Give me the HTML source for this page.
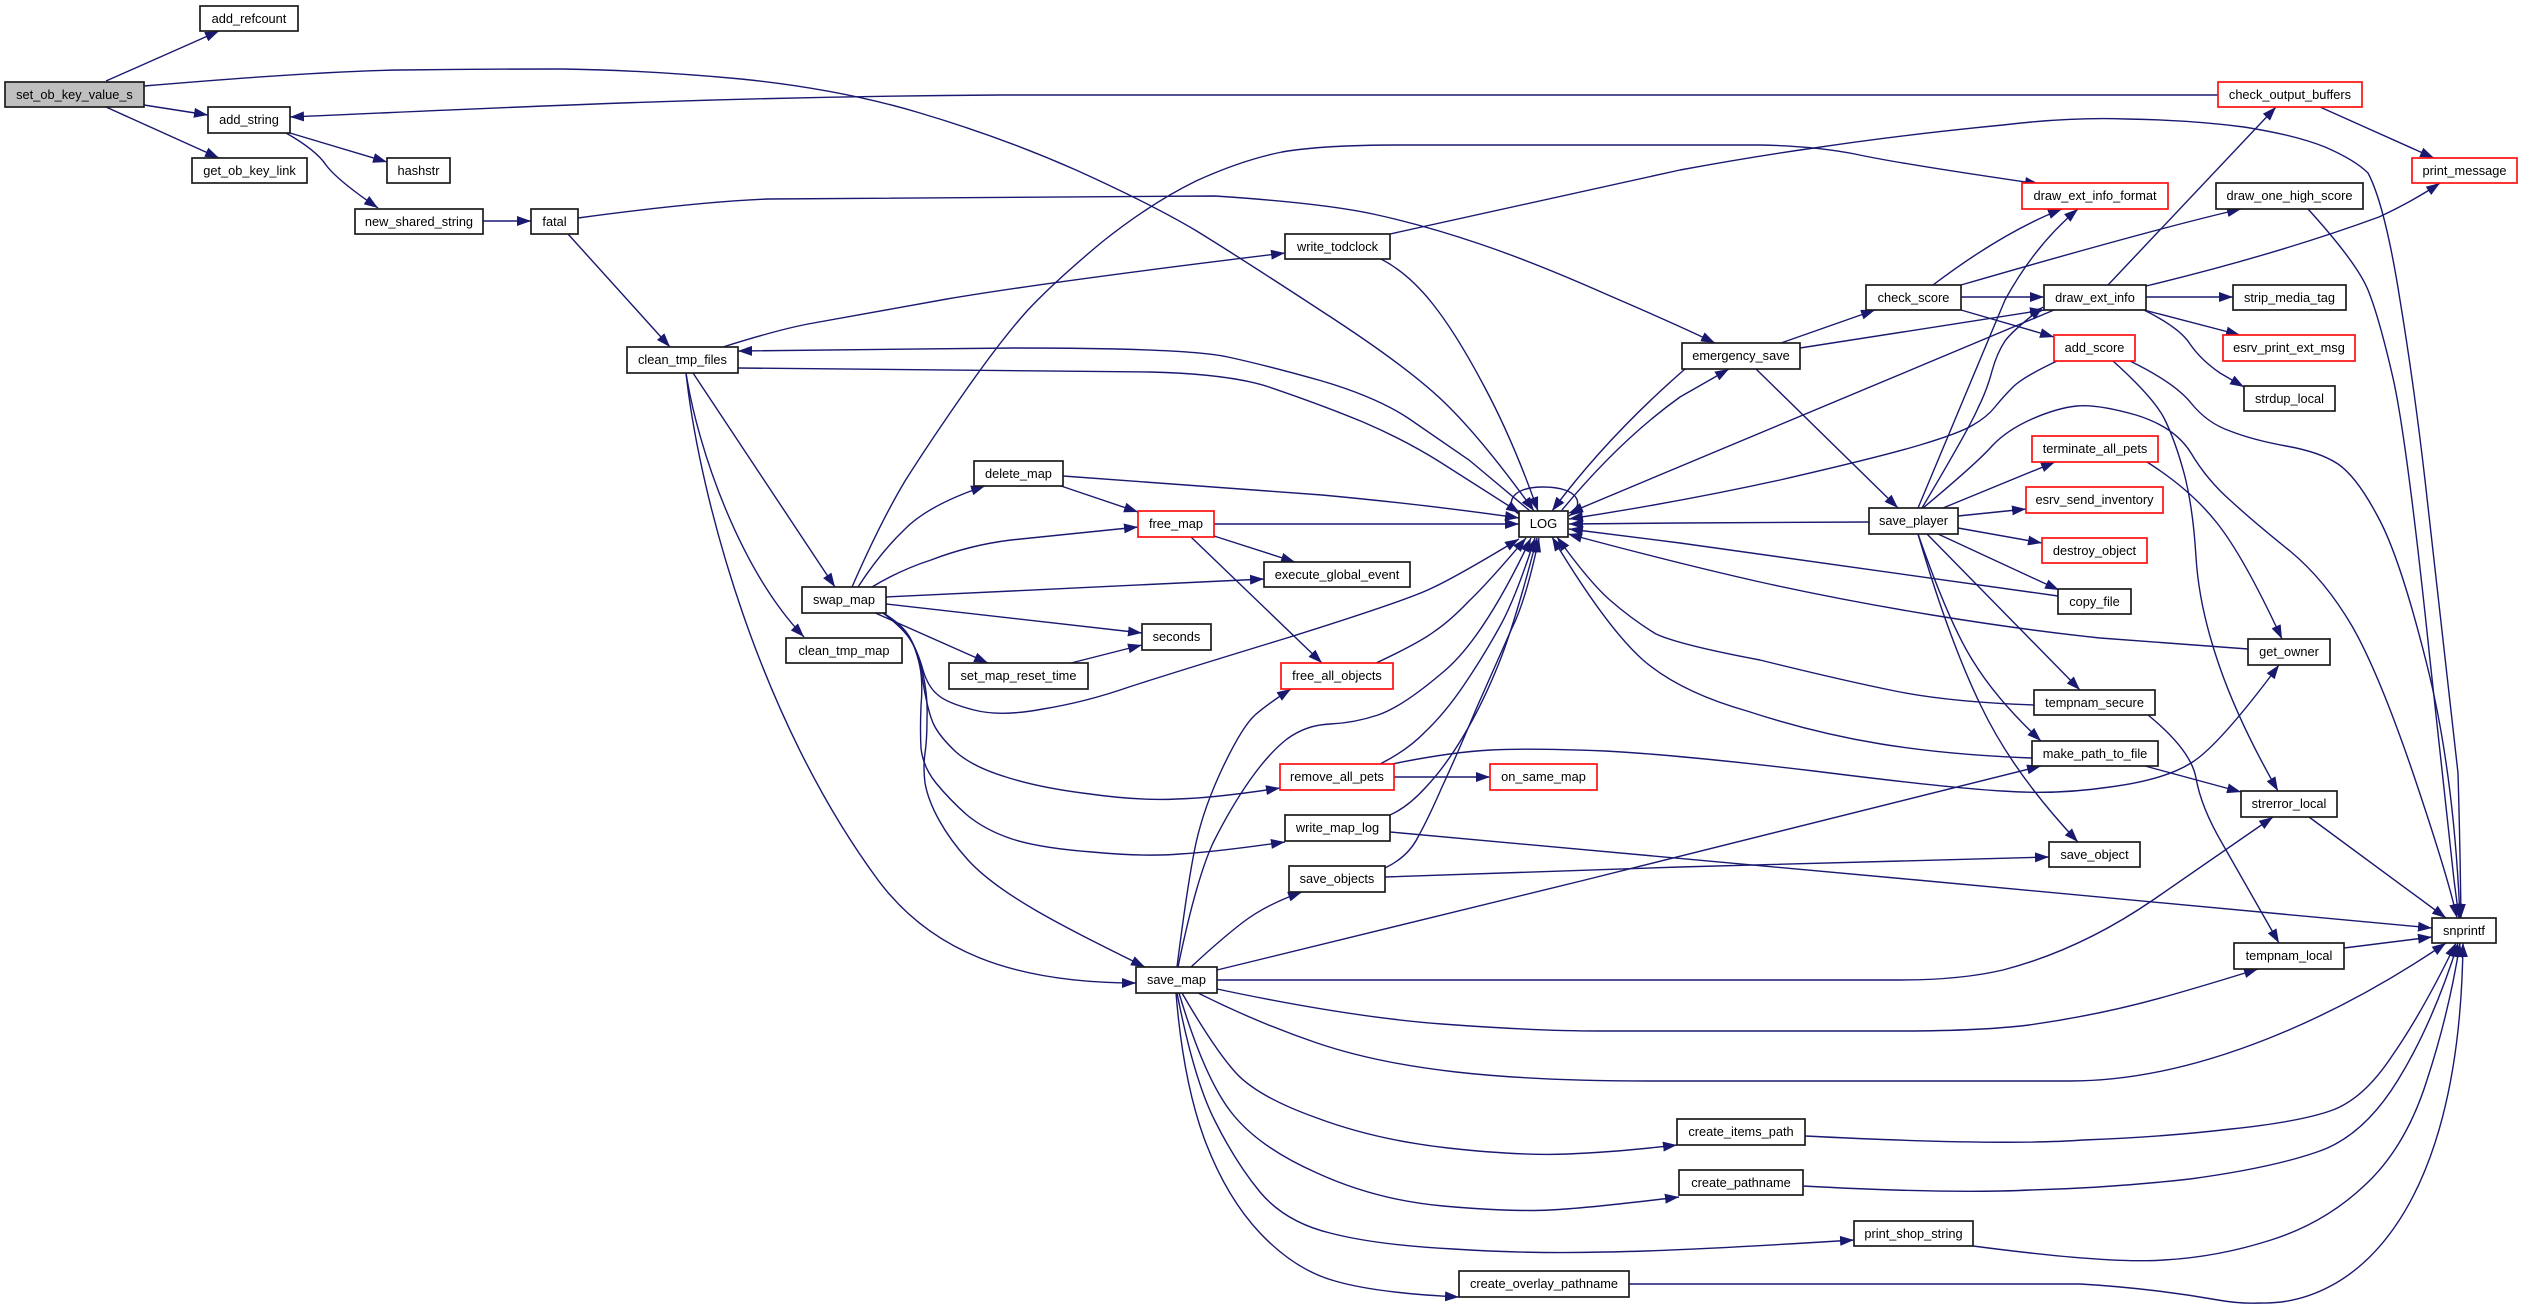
<!DOCTYPE html>
<html lang="en">
<head>
<meta charset="utf-8">
<title>set_ob_key_value_s call graph</title>
<style>
html,body{margin:0;padding:0;background:#fff}
svg{display:block}
.e{fill:none;stroke:#191970;stroke-width:1.4}
.n rect{fill:#fff;stroke:#1c1c1c;stroke-width:1.7}
.r rect{fill:#fff;stroke:#ff1010;stroke-width:1.7}
text{font-family:"Liberation Sans",sans-serif;font-size:12.8px;fill:#000;text-anchor:middle}
</style>
</head>
<body>
<svg xmlns="http://www.w3.org/2000/svg" width="2523" height="1308" viewBox="0 0 2523 1308">
<defs>
<marker id="a" markerUnits="userSpaceOnUse" viewBox="0 0 14 10" markerWidth="14" markerHeight="10" refX="14" refY="5" orient="auto">
<path d="M0,0L14,5L0,10z" fill="#191970" stroke="none"/>
</marker>
</defs>
<g class="e" marker-end="url(#a)">
<path d="M106,81L219,31"/>
<path d="M144,105L208,115"/>
<path d="M106,107L219,158"/>
<path d="M144,86Q321,71 401,70Q482,69 562,69Q643,70 741,79Q840,89 920,113Q1001,137 1076,170Q1151,204 1195,230Q1239,257 1323,312Q1408,367 1445,403Q1483,440 1534,511"/>
<path d="M2218,95L1000,95C700,97 500,108 290,117"/>
<path d="M290,133L387,162"/>
<path d="M286,133Q316,150 326,165Q337,180 378,208"/>
<path d="M483,221L531,221"/>
<path d="M578,218Q696,202 768,199L1215,196Q1322,203 1373,214Q1424,225 1480,244Q1536,263 1608,295Q1680,326 1715,343"/>
<path d="M568,234L670,347"/>
<path d="M723,347Q777,330 808,324Q840,318 947,299Q1054,281 1285,253"/>
<path d="M1530,511L1469,460Q1440,440 1408,418Q1376,397 1322,381Q1269,366 1228,357Q1188,348 1014,348L738,351"/>
<path d="M738,368L1150,372Q1230,374 1269,387Q1322,405 1363,422Q1405,440 1440,462L1520,513"/>
<path d="M693,373L835,587"/>
<path d="M686,373C698,450 740,570 804,637"/>
<path d="M686,373C700,500 760,720 878,880C930,950 1010,983 1136,983"/>
<path d="M852,587Q880,523 905,481Q931,440 966,390Q1001,340 1027,311Q1054,282 1102,242Q1151,203 1196,181Q1242,160 1282,152Q1322,145 1400,145L1761,145Q1814,146 1855,154Q1895,163 2039,184"/>
<path d="M858,587Q880,553 904,530Q928,505 985,486"/>
<path d="M872,587Q900,570 931,560Q970,545 1011,540L1138,527"/>
<path d="M886,597L1264,579"/>
<path d="M886,604L1142,633"/>
<path d="M873,612L988,663"/>
<path d="M1071,663L1142,645"/>
<path d="M883,613Q905,630 911,641Q918,652 923,670Q928,687 938,695Q947,703 974,710Q1001,717 1043,709Q1086,702 1129,687Q1172,673 1290,637Q1408,600 1432,588Q1456,577 1519,539"/>
<path d="M883,613Q903,625 910,638Q918,652 923,682Q928,713 934,725Q940,737 956,752Q973,767 1006,777Q1040,788 1090,794Q1140,801 1177,799Q1215,798 1280,788"/>
<path d="M883,613Q903,625 910,638Q918,652 920,667Q923,683 921,706Q920,730 921,748Q923,767 936,783Q950,800 967,815Q985,830 1012,839Q1040,848 1092,852Q1145,857 1180,854Q1215,852 1285,842"/>
<path d="M883,613Q903,625 910,638Q918,652 923,674Q928,697 927,718Q927,740 925,753Q923,767 925,783Q928,800 939,820Q950,840 968,860C1000,895 1060,925 1145,967"/>
<path d="M1063,476L1322,495Q1429,505 1519,518"/>
<path d="M1061,486L1138,512"/>
<path d="M1214,524L1519,524"/>
<path d="M1214,536L1295,562"/>
<path d="M1191,537L1322,663"/>
<path d="M1376,663Q1419,643 1435,631Q1451,620 1469,601Q1488,583 1526,538"/>
<path d="M1177,967Q1188,880 1196,843Q1204,807 1223,767Q1242,727 1255,715Q1269,703 1291,689"/>
<path d="M1178,967Q1196,880 1213,843Q1231,807 1250,780Q1269,753 1287,739Q1306,725 1330,724Q1354,723 1378,715Q1402,707 1442,673Q1483,640 1531,538"/>
<path d="M1380,764Q1408,750 1426,731Q1445,713 1464,685Q1483,657 1499,628Q1515,600 1535,538"/>
<path d="M1394,777L1490,777"/>
<path d="M1392,764Q1451,752 1491,750Q1531,748 1605,751Q1680,755 1814,771Q1949,788 2002,791Q2056,795 2110,787Q2164,780 2191,763Q2218,747 2279,665"/>
<path d="M1390,815Q1408,807 1426,787Q1445,767 1464,735Q1483,703 1499,663Q1515,623 1537,538"/>
<path d="M1390,832Q1650,855 1917,880L2432,928"/>
<path d="M1385,868Q1408,857 1418,837Q1429,817 1442,787Q1456,757 1477,707Q1499,657 1512,628Q1526,600 1539,538"/>
<path d="M1385,877L1680,867L2049,857"/>
<path d="M1191,967Q1220,940 1242,923Q1265,905 1302,892"/>
<path d="M1217,970L1585,880L2041,766"/>
<path d="M1217,980L1900,980Q1960,980 2003,970Q2080,950 2153,900L2273,817"/>
<path d="M1217,989Q1349,1017 1442,1024Q1536,1031 1600,1031L1900,1031Q1980,1031 2029,1025Q2100,1015 2164,997Q2200,987 2258,969"/>
<path d="M1198,993Q1258,1023 1317,1043Q1376,1063 1456,1072Q1536,1081 1650,1081L2070,1081C2200,1081 2340,1015 2446,943"/>
<path d="M1182,993Q1215,1050 1236,1073Q1258,1097 1317,1118Q1376,1140 1448,1148Q1520,1156 1568,1154Q1617,1152 1677,1145"/>
<path d="M1179,993Q1204,1077 1231,1112Q1258,1147 1317,1173Q1376,1200 1443,1206Q1510,1212 1550,1210Q1590,1208 1679,1197"/>
<path d="M1177,993Q1194,1080 1215,1121Q1236,1163 1260,1192Q1285,1222 1330,1233Q1376,1245 1453,1249Q1531,1254 1605,1252Q1680,1251 1854,1240"/>
<path d="M1176,993Q1183,1080 1204,1138Q1226,1197 1260,1233Q1295,1270 1335,1281Q1376,1293 1459,1297"/>
<path d="M1629,1284L2080,1284Q2150,1288 2218,1300Q2240,1304 2261,1303C2350,1305 2460,1220 2463,943"/>
<path d="M1973,1246Q2110,1264 2164,1260Q2218,1257 2271,1240Q2325,1223 2365,1185Q2406,1147 2427,1080Q2449,1013 2460,943"/>
<path d="M1803,1186Q1949,1194 2030,1190Q2110,1188 2190,1179Q2271,1168 2317,1152Q2363,1137 2398,1080Q2433,1023 2458,943"/>
<path d="M1805,1136Q2003,1146 2083,1140Q2164,1137 2231,1129Q2298,1122 2330,1111Q2363,1100 2392,1056Q2422,1013 2456,943"/>
<path d="M2344,948L2432,937"/>
<path d="M2309,817L2446,918"/>
<path d="M1381,259Q1408,273 1432,303Q1456,333 1484,386Q1513,440 1538,511"/>
<path d="M1390,234L1680,170Q1750,157 1814,148Q1900,135 2003,125Q2070,117 2126,119Q2190,120 2244,127Q2295,135 2325,147Q2355,160 2368,173Q2385,205 2400,300Q2414,385 2425,480L2458,773Q2460,840 2461,918"/>
<path d="M2308,209Q2357,263 2368,290Q2379,317 2393,378Q2407,440 2430,660L2454,880L2459,918"/>
<path d="M2113,361Q2153,397 2164,418Q2175,440 2184,473Q2193,507 2196,557Q2199,607 2219,665Q2239,723 2278,791"/>
<path d="M2130,361Q2175,383 2191,403Q2207,423 2230,431Q2253,440 2286,446Q2320,452 2338,464Q2357,477 2378,517Q2400,557 2427,665Q2454,773 2460,918"/>
<path d="M1923,508Q1977,463 1992,446Q2007,430 2032,419Q2057,408 2077,406Q2097,404 2136,415Q2175,427 2191,453Q2207,480 2231,501Q2255,523 2290,551Q2325,580 2352,626Q2379,673 2414,776Q2449,880 2457,918"/>
<path d="M2148,715Q2191,750 2196,778Q2201,807 2222,843L2279,943"/>
<path d="M2147,462Q2191,490 2217,523Q2244,557 2282,639"/>
<path d="M2145,766L2241,792"/>
<path d="M1918,534Q1949,623 1973,661Q1997,700 2041,741"/>
<path d="M1918,534Q1949,640 1981,706Q2013,773 2078,842"/>
<path d="M1927,534L2080,690"/>
<path d="M1938,534L2059,590"/>
<path d="M1958,528L2042,543"/>
<path d="M1958,516L2026,509"/>
<path d="M1943,508L2055,462"/>
<path d="M1918,508L2005,300Q2035,245 2078,209"/>
<path d="M1922,508Q1970,427 1978,408Q1987,390 1992,371Q1997,353 2005,341Q2013,330 2043,307"/>
<path d="M1756,369L1898,508"/>
<path d="M2057,361Q2023,377 2013,387Q2003,397 1995,407Q1987,417 1973,425Q1960,433 1920,445Q1880,457 1780,480Q1680,502 1569,519"/>
<path d="M2054,310L1569,513"/>
<path d="M1800,348L2044,310"/>
<path d="M1781,343L1875,310"/>
<path d="M1933,285Q2003,232 2062,209"/>
<path d="M1961,285Q2158,228 2241,209"/>
<path d="M1961,297L2044,297"/>
<path d="M1961,310L2054,337"/>
<path d="M2108,285L2276,107"/>
<path d="M2146,286Q2275,255 2379,217Q2415,200 2440,183"/>
<path d="M2146,297L2233,297"/>
<path d="M2144,310L2240,335"/>
<path d="M2144,310Q2180,328 2190,344Q2201,360 2220,373L2244,387"/>
<path d="M2320,107L2434,158"/>
<path d="M1685,369Q1607,437 1552,511"/>
<path d="M1562,510Q1620,440 1680,397L1729,369"/>
<path d="M2248,649L2100,638Q2024,630 1932,615Q1841,600 1760,582Q1680,564 1568,534"/>
<path d="M2058,596L1680,543L1569,529"/>
<path d="M1869,522L1680,523L1569,524"/>
<path d="M2034,705Q1949,702 1895,691Q1841,680 1760,660Q1680,645 1656,634Q1633,620 1611,601Q1590,583 1557,537"/>
<path d="M2032,758Q1949,755 1881,744Q1814,733 1747,711Q1680,692 1643,660Q1606,627 1552,537"/>
<path d="M1519,514C1506,507 1507,487 1543,487C1580,487 1585,505 1569,516"/>
</g>
<g class="n"><rect x="200" y="6" width="98" height="25"/><text x="249" y="23">add_refcount</text></g>
<g class="n"><rect x="5" y="82" width="139" height="25" style="fill:#bfbfbf"/><text x="74.500" y="99">set_ob_key_value_s</text></g>
<g class="n"><rect x="208" y="107" width="82" height="26"/><text x="249" y="124">add_string</text></g>
<g class="n"><rect x="192" y="158" width="115" height="25"/><text x="249.500" y="175">get_ob_key_link</text></g>
<g class="n"><rect x="387" y="158" width="63" height="25"/><text x="418.500" y="175">hashstr</text></g>
<g class="n"><rect x="355" y="209" width="128" height="25"/><text x="419" y="226">new_shared_string</text></g>
<g class="n"><rect x="531" y="209" width="47" height="25"/><text x="554.500" y="226">fatal</text></g>
<g class="n"><rect x="627" y="347" width="111" height="26"/><text x="682.500" y="364">clean_tmp_files</text></g>
<g class="n"><rect x="1285" y="234" width="105" height="25"/><text x="1337.500" y="251">write_todclock</text></g>
<g class="r"><rect x="2218" y="82" width="144" height="25"/><text x="2290" y="99">check_output_buffers</text></g>
<g class="r"><rect x="2412" y="158" width="105" height="25"/><text x="2464.500" y="175">print_message</text></g>
<g class="r"><rect x="2022" y="183" width="146" height="26"/><text x="2095" y="200">draw_ext_info_format</text></g>
<g class="n"><rect x="2216" y="183" width="147" height="26"/><text x="2289.500" y="200">draw_one_high_score</text></g>
<g class="n"><rect x="1866" y="285" width="95" height="25"/><text x="1913.500" y="302">check_score</text></g>
<g class="n"><rect x="2044" y="285" width="102" height="25"/><text x="2095" y="302">draw_ext_info</text></g>
<g class="n"><rect x="2233" y="285" width="113" height="25"/><text x="2289.500" y="302">strip_media_tag</text></g>
<g class="r"><rect x="2054" y="335" width="81" height="26"/><text x="2094.500" y="352">add_score</text></g>
<g class="r"><rect x="2223" y="335" width="132" height="26"/><text x="2289" y="352">esrv_print_ext_msg</text></g>
<g class="n"><rect x="1682" y="343" width="118" height="26"/><text x="1741" y="360">emergency_save</text></g>
<g class="n"><rect x="2244" y="386" width="91" height="25"/><text x="2289.500" y="403">strdup_local</text></g>
<g class="r"><rect x="2032" y="436" width="126" height="26"/><text x="2095" y="453">terminate_all_pets</text></g>
<g class="r"><rect x="2026" y="487" width="137" height="26"/><text x="2094.500" y="504">esrv_send_inventory</text></g>
<g class="n"><rect x="1869" y="508" width="89" height="26"/><text x="1913.500" y="525">save_player</text></g>
<g class="r"><rect x="2042" y="538" width="105" height="25"/><text x="2094.500" y="555">destroy_object</text></g>
<g class="n"><rect x="2058" y="589" width="73" height="25"/><text x="2094.500" y="606">copy_file</text></g>
<g class="n"><rect x="2248" y="639" width="82" height="26"/><text x="2289" y="656">get_owner</text></g>
<g class="n"><rect x="2034" y="690" width="121" height="25"/><text x="2094.500" y="707">tempnam_secure</text></g>
<g class="n"><rect x="2032" y="741" width="126" height="25"/><text x="2095" y="758">make_path_to_file</text></g>
<g class="n"><rect x="2241" y="791" width="96" height="26"/><text x="2289" y="808">strerror_local</text></g>
<g class="n"><rect x="2049" y="842" width="91" height="25"/><text x="2094.500" y="859">save_object</text></g>
<g class="n"><rect x="974" y="461" width="89" height="25"/><text x="1018.500" y="478">delete_map</text></g>
<g class="r"><rect x="1138" y="511" width="76" height="26"/><text x="1176" y="528">free_map</text></g>
<g class="n"><rect x="1519" y="511" width="49" height="26"/><text x="1543.500" y="528" style="font-size:13px">LOG</text></g>
<g class="n"><rect x="802" y="587" width="84" height="26"/><text x="844" y="604">swap_map</text></g>
<g class="n"><rect x="786" y="638" width="116" height="25"/><text x="844" y="655">clean_tmp_map</text></g>
<g class="n"><rect x="1264" y="562" width="146" height="25"/><text x="1337" y="579">execute_global_event</text></g>
<g class="n"><rect x="1142" y="624" width="69" height="26"/><text x="1176.500" y="641">seconds</text></g>
<g class="n"><rect x="949" y="663" width="139" height="26"/><text x="1018.500" y="680">set_map_reset_time</text></g>
<g class="r"><rect x="1281" y="663" width="112" height="26"/><text x="1337" y="680">free_all_objects</text></g>
<g class="r"><rect x="1280" y="764" width="114" height="26"/><text x="1337" y="781">remove_all_pets</text></g>
<g class="r"><rect x="1490" y="764" width="107" height="26"/><text x="1543.500" y="781">on_same_map</text></g>
<g class="n"><rect x="1285" y="815" width="105" height="26"/><text x="1337.500" y="832">write_map_log</text></g>
<g class="n"><rect x="1289" y="866" width="96" height="26"/><text x="1337" y="883">save_objects</text></g>
<g class="n"><rect x="1136" y="967" width="81" height="26"/><text x="1176.500" y="984">save_map</text></g>
<g class="n"><rect x="1459" y="1271" width="170" height="26"/><text x="1544" y="1288">create_overlay_pathname</text></g>
<g class="n"><rect x="1677" y="1119" width="128" height="26"/><text x="1741" y="1136">create_items_path</text></g>
<g class="n"><rect x="1679" y="1170" width="124" height="25"/><text x="1741" y="1187">create_pathname</text></g>
<g class="n"><rect x="2234" y="943" width="110" height="26"/><text x="2289" y="960">tempnam_local</text></g>
<g class="n"><rect x="2432" y="918" width="64" height="25"/><text x="2464" y="935">snprintf</text></g>
<g class="n"><rect x="1854" y="1221" width="119" height="25"/><text x="1913.500" y="1238">print_shop_string</text></g>
</svg>
</body>
</html>
